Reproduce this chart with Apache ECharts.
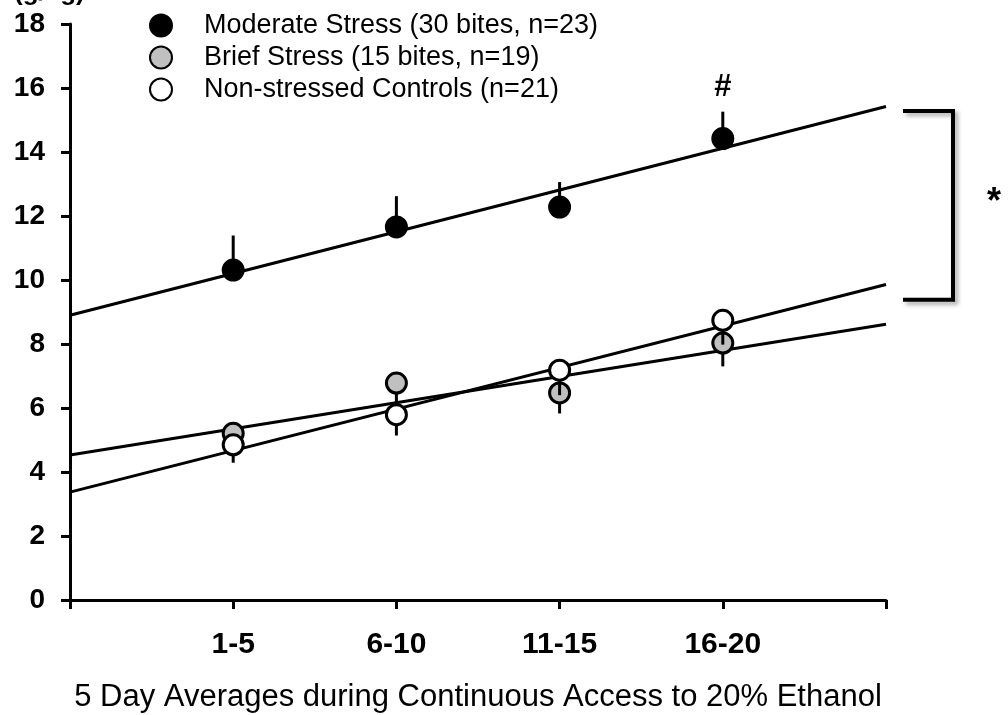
<!DOCTYPE html>
<html>
<head>
<meta charset="utf-8">
<script src="https://cdn.jsdelivr.net/npm/echarts@6/dist/echarts.min.js"></script>
<style>
html,body{margin:0;padding:0;background:#fff;}
#c{width:1008px;height:715px;}
</style>
</head>
<body>
<div id="c"></div>
<script>
// ---- data ----
const categories = ['1-5', '6-10', '11-15', '16-20'];
const yTicks = [0, 2, 4, 6, 8, 10, 12, 14, 16, 18];
const moderateMean = [10.31, 11.66, 12.28, 14.42];
const moderateErr  = [1.08, 0.96, 0.78, 0.84];   // drawn upward
const briefMean    = [5.21, 6.78, 6.47, 8.03];
const briefErr     = [0.40, 0.70, 0.64, 0.73];   // drawn downward
const controlMean  = [4.85, 5.79, 7.18, 8.74];
const controlErr   = [0.56, 0.65, 0.78, 0.76];   // drawn downward
// trend-line end values read at x = 0 and x = 5 (axis units)
const moderateTrend = [8.90, 15.42];
const briefTrend    = [4.53, 8.62];
const controlTrend  = [3.37, 9.86];
const bracketRange  = [9.38, 15.28];
const seriesNames = ['Moderate Stress (30 bites, n=23)', 'Brief Stress (15 bites, n=19)', 'Non-stressed Controls (n=21)'];
const xTitle = '5 Day Averages during Continuous Access to 20% Ethanol';
const yUnit = '(g/kg)';

const FONT = '"Liberation Sans", Arial, Helvetica, sans-serif';
const pts = arr => arr.map((v, i) => [i + 1, v]);
const trend = arr => [[0, arr[0]], [5, arr[1]]];

function errSeries(mean, err, dir, z) {
  return {
    type: 'custom',
    z: z,
    silent: true,
    data: mean.map((v, i) => [i + 1, v, v + dir * err[i]]),
    renderItem: function (params, api) {
      const a = api.coord([api.value(0), api.value(1)]);
      const b = api.coord([api.value(0), api.value(2)]);
      return {
        type: 'line',
        shape: { x1: a[0], y1: a[1], x2: b[0], y2: b[1] },
        style: { stroke: '#000', lineWidth: 3 }
      };
    }
  };
}
function trendSeries(arr) {
  return {
    type: 'line', data: trend(arr), symbol: 'none', silent: true, z: 2,
    lineStyle: { color: '#000', width: 3 }
  };
}
function scatter(name, mean, fill, z) {
  return {
    name: name, type: 'scatter', data: pts(mean), symbol: 'circle', symbolSize: 20, z: z,
    itemStyle: { color: fill, borderColor: '#000', borderWidth: 3, opacity: 1 }
  };
}

const chart = echarts.init(document.getElementById('c'), null, { renderer: 'canvas' });
const modScatter = scatter(seriesNames[0], moderateMean, '#000', 4);
modScatter.markPoint = {
  symbol: 'circle', symbolSize: 0,
  data: [{ coord: [4, moderateMean[3] + moderateErr[3]], value: '#' }],
  label: { show: true, formatter: '#', offset: [0, -24], fontFamily: FONT, fontWeight: 'bold', fontSize: 31, color: '#000' }
};
chart.setOption({
  animation: false,
  backgroundColor: '#fff',
  grid: { left: 70, right: 122, top: 24, bottom: 115, outerBoundsMode: 'none', containLabel: false },
  legend: {
    data: seriesNames,
    orient: 'vertical',
    left: 144, top: 7,
    itemWidth: 22, itemHeight: 22, itemGap: 5,
    textStyle: { fontFamily: FONT, fontSize: 27, lineHeight: 24, color: '#000', padding: [2, 0, 0, 27] }
  },
  xAxis: {
    type: 'value', min: 0, max: 5, interval: 1,
    name: xTitle, nameLocation: 'middle', nameGap: 82,
    nameTextStyle: { fontFamily: FONT, fontSize: 31, color: '#000' },
    axisLine: { lineStyle: { color: '#000', width: 3 } },
    axisTick: { show: true, length: 9, lineStyle: { color: '#000', width: 3 } },
    splitLine: { show: false },
    axisLabel: {
      margin: 30, fontFamily: FONT, fontSize: 30, fontWeight: 'bold', color: '#000',
      formatter: v => (v >= 1 && v <= categories.length) ? categories[v - 1] : ''
    }
  },
  yAxis: {
    type: 'value', min: yTicks[0], max: yTicks[yTicks.length - 1], interval: 2,
    axisLine: { show: true, lineStyle: { color: '#000', width: 3 } },
    axisTick: { show: true, length: 9, lineStyle: { color: '#000', width: 3 } },
    splitLine: { show: false },
    axisLabel: { margin: 25, fontFamily: FONT, fontSize: 28, fontWeight: 'bold', color: '#000' }
  },
  series: [
    trendSeries(moderateTrend),
    trendSeries(briefTrend),
    trendSeries(controlTrend),
    errSeries(moderateMean, moderateErr, 1, 3),
    modScatter,
    errSeries(briefMean, briefErr, -1, 5),
    scatter(seriesNames[1], briefMean, '#c0c0c0', 6),
    errSeries(controlMean, controlErr, -1, 7),
    scatter(seriesNames[2], controlMean, '#fff', 8)
  ]
});

// bracket and significance star, placed from axis values
const yTop = chart.convertToPixel({ yAxisIndex: 0 }, bracketRange[1]);
const yBot = chart.convertToPixel({ yAxisIndex: 0 }, bracketRange[0]);
const xEnd = chart.convertToPixel({ xAxisIndex: 0 }, 5);
const bx1 = xEnd + 17, bx2 = xEnd + 67;
chart.setOption({
  graphic: [
    {
      type: 'polyline', z: 10,
      shape: { points: [[bx1, yTop], [bx2, yTop], [bx2, yBot], [bx1, yBot]] },
      style: { stroke: '#000', lineWidth: 4, fill: null,
               shadowColor: 'rgba(0,0,0,0.35)', shadowBlur: 4, shadowOffsetX: 3, shadowOffsetY: 3 }
    },
    {
      type: 'text', z: 10, left: bx2 + 34, top: (yTop + yBot) / 2 - 20,
      style: { text: '*', fontFamily: FONT, fontWeight: 'bold', fontSize: 36, fill: '#000' }
    },
    {
      type: 'text', z: 10, left: 14, top: -20,
      style: { text: yUnit, fontFamily: FONT, fontWeight: 'bold', fontSize: 26, fill: '#000' }
    }
  ]
});
</script>
</body>
</html>
